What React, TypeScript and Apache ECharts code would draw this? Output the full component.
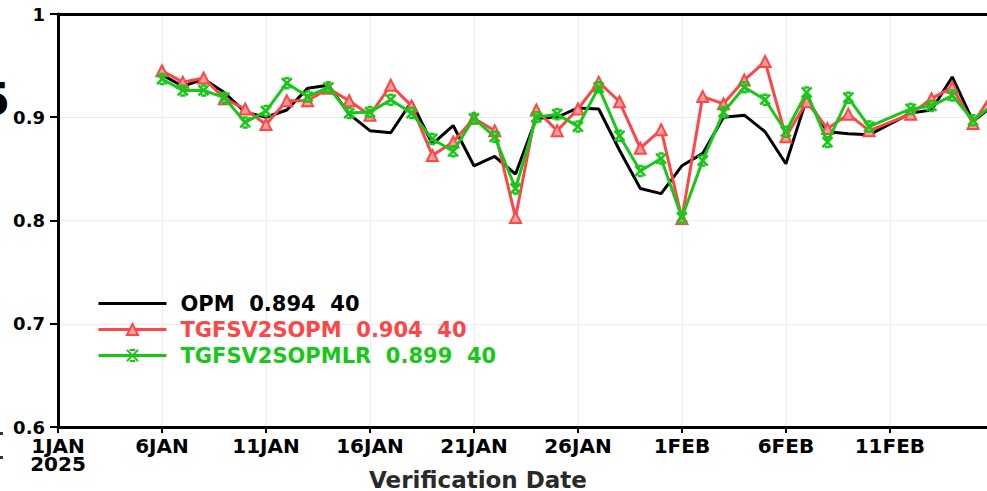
import React, { useEffect, useRef } from "react";
import * as echarts from "echarts";

const dates = [
  "2025-01-06", "2025-01-07", "2025-01-08", "2025-01-09", "2025-01-10",
  "2025-01-11", "2025-01-12", "2025-01-13", "2025-01-14", "2025-01-15",
  "2025-01-16", "2025-01-17", "2025-01-18", "2025-01-19", "2025-01-20",
  "2025-01-21", "2025-01-22", "2025-01-23", "2025-01-24", "2025-01-25",
  "2025-01-26", "2025-01-27", "2025-01-28", "2025-01-29", "2025-01-30",
  "2025-01-31", "2025-02-01", "2025-02-02", "2025-02-03", "2025-02-04",
  "2025-02-05", "2025-02-06", "2025-02-07", "2025-02-08", "2025-02-09",
  "2025-02-11", "2025-02-12", "2025-02-13", "2025-02-14", "2025-02-15",
];

const opm = [
  0.941, 0.930, 0.937, 0.924, 0.905, 0.900, 0.907, 0.928, 0.931, 0.903,
  0.887, 0.885, 0.915, 0.874, 0.892, 0.853, 0.862, 0.845, 0.899, 0.900,
  0.909, 0.908, 0.868, 0.831, 0.826, 0.853, 0.865, 0.900, 0.902, 0.886,
  0.855, 0.918, 0.886, 0.884, 0.883, 0.904, 0.907, 0.939, 0.896, 0.912,
];

const tgfsv2sopm = [
  0.945, 0.934, 0.938, 0.918, 0.908, 0.893, 0.916, 0.916, 0.928, 0.916,
  0.902, 0.931, 0.911, 0.863, 0.876, 0.899, 0.887, 0.803, 0.907, 0.887,
  0.908, 0.934, 0.915, 0.870, 0.888, 0.802, 0.920, 0.913, 0.936, 0.954,
  0.881, 0.915, 0.889, 0.903, 0.887, 0.903, 0.918, 0.929, 0.894, 0.925,
];

const tgfsv2sopmlr = [
  0.937, 0.926, 0.926, 0.919, 0.895, 0.906, 0.933, 0.920, 0.929, 0.904,
  0.905, 0.917, 0.904, 0.879, 0.867, 0.899, 0.881, 0.831, 0.900, 0.903,
  0.891, 0.929, 0.882, 0.848, 0.860, 0.803, 0.858, 0.905, 0.929, 0.917,
  0.886, 0.924, 0.876, 0.919, 0.891, 0.908, 0.911, 0.921, 0.897, 0.913,
];

const seriesNames = ["OPM", "TGFSV2SOPM", "TGFSV2SOPMLR"];
const seriesMeans = ["0.894", "0.904", "0.899"];
const seriesCounts = [40, 40, 40];

const xAxisTitle = "Verification Date";
const xTickLabels = ["1JAN\n2025", "6JAN", "11JAN", "16JAN", "21JAN", "26JAN", "1FEB", "6FEB", "11FEB"];
const yTickLabels: Record<string, string> = { "0.6": "0.6", "0.7": "0.7", "0.8": "0.8", "0.9": "0.9", "1": "1" };

const START = Date.UTC(2025, 0, 1);
const dayOffset = (d: string) => (Date.parse(d + "T00:00:00Z") - START) / 86400000;

const FONT = "DejaVu Sans";
const RED = "#ff4646";
const GREEN = "#18c818";
const XMARK = "path://M0,0L10,10M10,0L0,10M2.5,0L7.5,0M2.5,10L7.5,10";

export default function App() {
  const ref = useRef<HTMLDivElement>(null);
  useEffect(() => {
    if (!ref.current) return;
    const chart = echarts.init(ref.current, undefined, { renderer: "svg" });
    const mk = (vals: number[]) => dates.map((d, i) => [dayOffset(d), vals[i]]);
    const colors = ["#000000", RED, GREEN];
    chart.setOption({
      animation: false,
      backgroundColor: "#ffffff",
      grid: { left: 58, right: 0, top: 14, bottom: 64, containLabel: false, outerBoundsMode: "none" },
      legend: {
        orient: "vertical",
        left: 97,
        top: 293,
        padding: 0,
        itemWidth: 68,
        itemHeight: 14,
        itemGap: 5,
        lineStyle: { width: 3 },
        data: seriesNames.map((n, i) => ({
          name: n,
          textStyle: { color: colors[i] },
          ...(i === 0 ? { itemStyle: { opacity: 0 } } : {}),
        })),
        formatter: (name: string) => {
          const i = seriesNames.indexOf(name);
          return `${name}\u00a0\u00a0${seriesMeans[i]}\u00a0\u00a0${seriesCounts[i]}`;
        },
        textStyle: {
          fontFamily: FONT,
          fontWeight: "bold",
          fontSize: 21,
          padding: [0, 0, 0, 9],
        },
      },
      xAxis: [
        {
          type: "value",
          min: 0,
          max: 44.67,
          interval: 5,
          axisLine: { show: true, onZero: false, lineStyle: { color: "#000", width: 3 } },
          axisTick: { show: true, inside: false, length: 6, lineStyle: { color: "#000", width: 2 } },
          axisLabel: {
            fontFamily: FONT,
            fontWeight: "bold",
            fontSize: 20,
            lineHeight: 18,
            color: "#000",
            margin: 10,
            showMaxLabel: false,
            formatter: (v: number) => xTickLabels[Math.round(v / 5)] ?? "",
          },
          splitLine: { show: true, lineStyle: { color: "#ebebeb", width: 1 } },
        },
        {
          type: "value",
          position: "top",
          min: 0,
          max: 44.67,
          interval: 5,
          axisLine: { show: true, onZero: false, lineStyle: { color: "#000", width: 3 } },
          axisTick: { show: false },
          axisLabel: { show: false },
          splitLine: { show: false },
        },
      ],
      yAxis: {
        type: "value",
        min: 0.6,
        max: 1,
        interval: 0.1,
        axisLine: { show: true, onZero: false, lineStyle: { color: "#000", width: 3 } },
        axisTick: { show: true, inside: false, length: 8, lineStyle: { color: "#000", width: 2 } },
        axisLabel: {
          fontFamily: FONT,
          fontWeight: "bold",
          fontSize: 18,
          color: "#000",
          margin: 13,
          formatter: (v: number) => yTickLabels[String(Math.round(v * 10) / 10)] ?? "",
        },
        splitLine: { show: true, lineStyle: { color: "#ebebeb", width: 1 } },
      },
      graphic: [
        {
          type: "text",
          x: 478,
          y: 480,
          style: {
            text: xAxisTitle,
            fill: "#2a2a2a",
            font: `bold 23px "${FONT}"`,
            textAlign: "center",
            textVerticalAlign: "middle",
          },
        },
        {
          type: "text",
          x: 10,
          y: 99,
          style: {
            text: "5",
            fill: "#000",
            font: `bold 44px "${FONT}"`,
            textAlign: "right",
            textVerticalAlign: "middle",
          },
        },
        { type: "rect", shape: { x: 0, y: 432, width: 3, height: 3 }, style: { fill: "#333" } },
        { type: "rect", shape: { x: 0, y: 456, width: 3, height: 3 }, style: { fill: "#333" } },
      ],
      series: [
        {
          name: seriesNames[0],
          type: "line",
          xAxisIndex: 0,
          data: mk(opm),
          symbol: "none",
          lineStyle: { color: "#000", width: 3 },
          itemStyle: { color: "#000" },
          z: 2,
        },
        {
          name: seriesNames[1],
          type: "line",
          xAxisIndex: 0,
          data: mk(tgfsv2sopm),
          symbol: "triangle",
          symbolSize: 11,
          lineStyle: { color: RED, width: 3 },
          itemStyle: { color: "#ff9c9c", borderColor: RED, borderWidth: 2 },
          z: 3,
        },
        {
          name: seriesNames[2],
          type: "line",
          xAxisIndex: 0,
          data: mk(tgfsv2sopmlr),
          symbol: XMARK,
          symbolSize: 10,
          lineStyle: { color: GREEN, width: 3 },
          itemStyle: { color: GREEN, borderColor: GREEN, borderWidth: 2.5 },
          z: 4,
        },
      ],
    });
    return () => chart.dispose();
  }, []);
  return (
    <div
      ref={ref}
      style={{ position: "fixed", left: 0, top: 0, width: 987, height: 491, background: "#fff" }}
    />
  );
}
